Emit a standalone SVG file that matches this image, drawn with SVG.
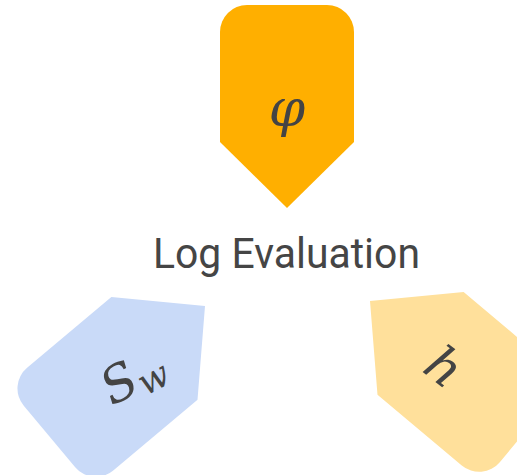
<svg xmlns="http://www.w3.org/2000/svg" width="517" height="475" viewBox="0 0 517 475">
  <defs>
    <path id="badge" d="M 0 0 L -67 -66 L -67 -176 A 27 27 0 0 1 -40 -203 L 40 -203 A 27 27 0 0 1 67 -176 L 67 -66 Z"/>
  </defs>
  <style>
    .sym { font-family: "DejaVu Serif", "Liberation Serif", serif; font-style: italic; fill: #444444; }
    .title { font-family: Roboto, "Liberation Sans", sans-serif; fill: #454545; }
  </style>
  <rect width="517" height="475" fill="#ffffff"/>
  <g id="connectors"></g>
  <g id="node-phi">
    <use href="#badge" transform="translate(287,208)" fill="#FFAF00"/>
    <text class="sym" x="287" y="126" font-size="52" text-anchor="middle">φ</text>
  </g>
  <g id="node-sw">
    <use href="#badge" transform="translate(205,306) rotate(-130)" fill="#C9DAF8"/>
    <g transform="translate(131,378) rotate(-28)">
      <text class="sym" x="-30" y="16" font-size="50">S<tspan font-size="36" dy="7">w</tspan></text>
    </g>
  </g>
  <g id="node-h">
    <use href="#badge" transform="translate(370,301) rotate(130)" fill="#FFE09B"/>
    <g transform="translate(444,367) rotate(38)">
      <text class="sym" x="0" y="17" font-size="50" text-anchor="middle">h</text>
    </g>
  </g>
  <g id="label">
    <text class="title" x="153" y="268" font-size="43" textLength="267" lengthAdjust="spacingAndGlyphs">Log Evaluation</text>
  </g>
</svg>
